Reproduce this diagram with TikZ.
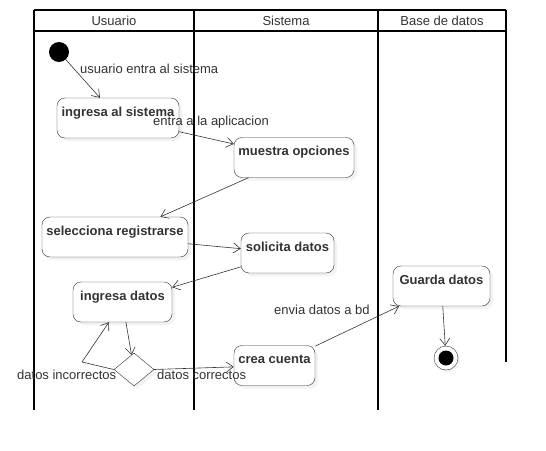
\documentclass[tikz,border=0pt]{standalone}
\usepackage{fontspec}
\setmainfont{Liberation Sans}
\usetikzlibrary{positioning,shapes.geometric,arrows.meta,shadows}
\definecolor{inkgray}{HTML}{333333}
\newcommand{\actname}[1]{\textbf{#1}}

\begin{document}
\begin{tikzpicture}[x=1pt,y=-1pt,
  font=\fontsize{13}{15}\selectfont,
  activity/.style={draw=inkgray, rounded corners=8pt, fill=white, text=inkgray,
    inner ysep=4pt, text height=14pt, text depth=18pt,
    drop shadow={shadow xshift=3pt,shadow yshift=-3pt,fill=black!10}},
  flow/.style={-{Straight Barb[length=7pt,width=10pt]}, draw=inkgray, line width=0.6pt},
  edgelabel/.style={text=inkgray, anchor=west, inner sep=0pt},
  lane/.style={line width=1.6pt}]
\useasboundingbox (0,0) rectangle (546,450);
%% swimlanes
\draw [lane] (34,10) -- (506,10);
\draw [lane] (34,31) -- (506,31);
\draw [lane] (34,10) -- (34,410);
\draw [lane] (194,10) -- (194,410);
\draw [lane] (378,10) -- (378,410);
\draw [lane] (506,10) -- (506,362);
\node [text=inkgray] (laneUser) at (114,21) {Usuario};
\node [text=inkgray] (laneSys) at (286,21) {Sistema};
\node [text=inkgray] (laneDb) at (442,21) {Base de datos};
%the nodes
\node [circle, fill=black, minimum size=20pt, inner sep=0pt] (startDot) at (59,52) {};
\node [activity, minimum width=122pt] (ingresaSistema) at (118,118) {\actname{ingresa al sistema}};
\node [activity, minimum width=120pt] (muestraOpciones) at (294,157.5) {\actname{muestra opciones}};
\node [activity, minimum width=146pt] (seleccionaReg) at (115,237) {\actname{selecciona registrarse}};
\node [activity, minimum width=93pt] (solicitaDatos) at (287.5,253) {\actname{solicita datos}};
\node [activity, minimum width=99pt] (ingresaDatos) at (122.5,302) {\actname{ingresa datos}};
\node [diamond, draw=inkgray, fill=white, minimum width=40pt, minimum height=33pt, inner sep=0pt,
  drop shadow={shadow xshift=3pt,shadow yshift=-3pt,fill=black!10}] (decision) at (134,369.5) {};
\node [activity, minimum width=81pt] (creaCuenta) at (274.5,365.5) {\actname{crea cuenta}};
\node [activity, minimum width=97pt] (guardaDatos) at (441.5,286) {\actname{Guarda datos}};
\node [circle, draw=inkgray, fill=white, minimum size=24pt, inner sep=0pt,
  drop shadow={shadow xshift=2pt,shadow yshift=-2pt,fill=black!10}] (endDot) at (446,358) {};
\node [circle, fill=black, minimum size=15pt, inner sep=0pt] (endCore) at (endDot) {};
\coordinate (loopCorner) at (82,362);
%drawings of lines
\draw [flow] (startDot) -- (ingresaSistema);
\draw [flow] (ingresaSistema) -- (muestraOpciones);
\draw [flow] (muestraOpciones) -- (seleccionaReg);
\draw [flow] (seleccionaReg) -- (solicitaDatos);
\draw [flow] (solicitaDatos) -- (ingresaDatos);
\draw [flow] (ingresaDatos) -- (decision);
\draw [flow] (decision.west) -- (loopCorner) -- (ingresaDatos);
\draw [flow] (decision.east) -- (creaCuenta);
\draw [flow] (creaCuenta) -- (guardaDatos);
\draw [flow] (guardaDatos) -- (endDot);
%edge labels
\node [edgelabel] (lblEntra) at (80,69) {usuario entra al sistema};
\node [edgelabel] (lblApp) at (153,122) {entra a la aplicacion};
\node [edgelabel] (lblBd) at (274,310) {envia datos a bd};
\node [edgelabel] (lblMal) at (17,375) {datos incorrectos};
\node [edgelabel] (lblBien) at (157,375) {datos correctos};
\end{tikzpicture}
\end{document}
